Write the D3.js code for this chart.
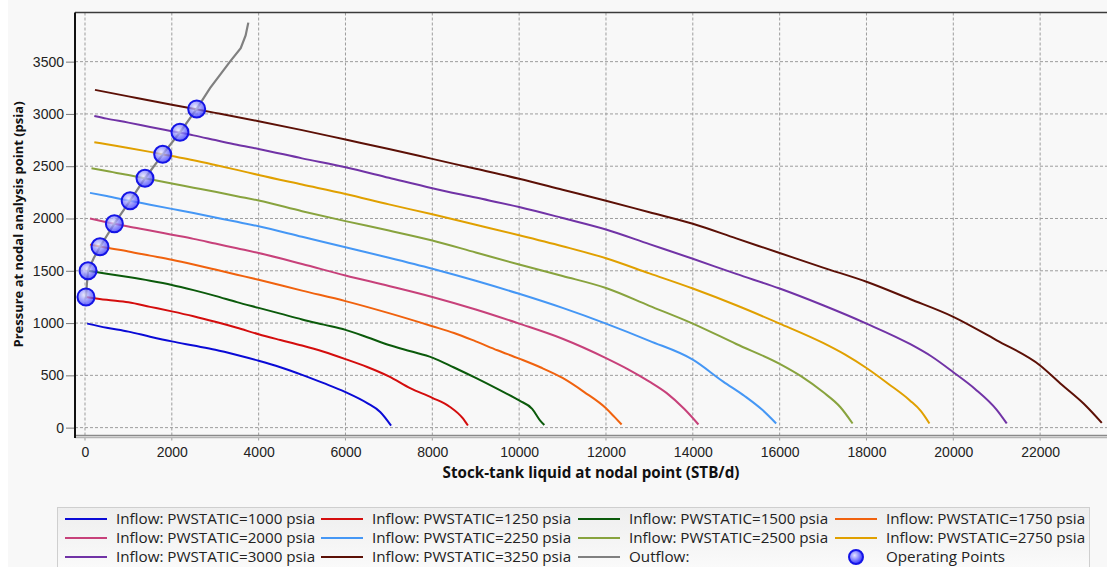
<!DOCTYPE html>
<html>
<head>
<meta charset="utf-8">
<script src="https://cdn.jsdelivr.net/npm/d3@7"></script>
<style>
  body { margin: 0; background: #ffffff; }
  svg { display: block; font-family: "Open Sans", "Noto Sans", sans-serif; }
</style>
</head>
<body>
<div id="chart"></div>
<script>
// Данные: расход (STB/d) и давление (psia) для каждой кривой притока
const pwstatic = [1000, 1250, 1500, 1750, 2000, 2250, 2500, 2750, 3000, 3250]

const inflow1000 = [[50,995],[500,955],[1000,918],[1500,870],[2000,825],[2500,785],[3000,745],[3500,695],[4000,640],[4500,578],[5000,505],[5500,425],[6000,340],[6500,235],[6800,150],[7050,20]]
const inflow1250 = [[23,1250],[500,1222],[1000,1198],[1500,1155],[2000,1112],[2500,1065],[3000,1012],[3500,955],[4000,893],[4500,838],[5000,785],[5500,725],[6000,655],[6500,580],[7000,490],[7500,375],[8000,285],[8400,200],[8700,90],[8820,20]]
const inflow1500 = [[70,1500],[500,1472],[1000,1440],[1500,1405],[2000,1365],[2500,1315],[3000,1260],[3500,1200],[4000,1145],[4500,1090],[5000,1035],[5500,985],[6000,935],[6500,865],[7000,790],[7500,730],[8000,670],[8500,575],[9000,475],[9500,370],[10000,260],[10300,180],[10480,70],[10580,25]]
const inflow1750 = [[115,1750],[500,1720],[1000,1685],[1500,1645],[2000,1605],[2500,1560],[3000,1512],[3500,1463],[4000,1414],[5000,1310],[6000,1210],[7000,1095],[8000,970],[8500,905],[9000,825],[9500,740],[10000,660],[10500,575],[11000,475],[11500,340],[12000,185],[12200,100],[12360,30]]
const inflow2000 = [[115,2000],[500,1965],[1000,1923],[1500,1885],[2000,1845],[2500,1805],[3000,1760],[3500,1715],[4000,1670],[5000,1565],[6000,1455],[7000,1355],[8000,1250],[9000,1130],[10000,995],[11000,850],[12000,665],[12500,560],[13000,440],[13400,330],[13800,180],[14130,30]]
const inflow2250 = [[115,2245],[500,2215],[1000,2172],[1500,2132],[2000,2092],[2500,2052],[3000,2010],[3500,1968],[4000,1925],[5000,1825],[6000,1725],[7000,1625],[8000,1520],[9000,1405],[10000,1280],[11000,1145],[12000,995],[13000,830],[14000,650],[14700,440],[15200,300],[15600,170],[15920,40]]
const inflow2500 = [[150,2480],[500,2455],[1000,2415],[1500,2375],[2000,2335],[2500,2295],[3000,2255],[3500,2213],[4000,2172],[5000,2070],[6000,1975],[7000,1885],[8000,1790],[9000,1675],[10000,1560],[11000,1450],[12000,1335],[13000,1165],[14000,995],[15000,800],[16000,610],[16500,490],[17000,340],[17400,195],[17680,40]]
const inflow2750 = [[215,2730],[500,2710],[1000,2675],[1500,2637],[2000,2597],[2500,2557],[3000,2512],[3500,2465],[4000,2416],[5000,2325],[6000,2235],[7000,2135],[8000,2040],[9000,1940],[10000,1840],[11000,1735],[12000,1620],[13000,1475],[14000,1330],[15000,1170],[16000,995],[17000,810],[17500,700],[18000,570],[18500,420],[19000,260],[19250,160],[19450,40]]
const inflow3000 = [[215,2980],[500,2955],[1000,2917],[1500,2875],[2000,2835],[2500,2795],[3000,2750],[3500,2705],[4000,2665],[5000,2575],[6000,2490],[7000,2390],[8000,2290],[9000,2200],[10000,2110],[11000,2005],[12000,1895],[13000,1755],[14000,1615],[15000,1470],[16000,1330],[17000,1170],[18000,995],[19000,800],[19500,680],[20000,530],[20500,370],[21000,170],[21230,40]]
const inflow3250 = [[230,3230],[1000,3168],[2000,3088],[3000,3010],[4000,2930],[5000,2845],[6000,2755],[7000,2665],[8000,2570],[9000,2475],[10000,2380],[11000,2275],[12000,2170],[13000,2060],[14000,1950],[15000,1810],[16000,1670],[17000,1530],[18000,1395],[19000,1230],[20000,1060],[21000,835],[22000,595],[22500,410],[23000,230],[23420,45]]

// Кривая оттока и рабочие точки
const outflow = [[20,1235],[23,1250],[45,1380],[70,1500],[200,1620],[346,1730],[677,1950],[1040,2170],[1382,2385],[1790,2614],[2188,2825],[2573,3048],[2880,3246],[3110,3373],[3340,3500],[3587,3628],[3700,3750],[3762,3873]]
const operatingPoints = [[23,1250],[70,1500],[346,1730],[677,1950],[1040,2170],[1382,2385],[1790,2614],[2188,2825],[2573,3048]]

// Подписи осей
const xTicks = [0, 2000, 4000, 6000, 8000, 10000, 12000, 14000, 16000, 18000, 20000, 22000]
const yTicks = [0, 500, 1000, 1500, 2000, 2500, 3000, 3500]

const inflows = [inflow1000, inflow1250, inflow1500, inflow1750, inflow2000, inflow2250, inflow2500, inflow2750, inflow3000, inflow3250]
const colors = ['#0a0ad6', '#d40d0d', '#0b5a0b', '#f0620e', '#c7417a', '#4597f5', '#88a33e', '#e0a000', '#7133a6', '#5c1006']
const outflowColor = '#808080'

const W = 1107, H = 567
const pLeft = 75, pRight = 1107, pTop = 12.5, pBottom = 436

let svg = d3.select('#chart')
  .append('svg')
  .attr('width', W)
  .attr('height', H)

// градиент для маркеров
let defs = svg.append('defs')
let grad = defs.append('radialGradient')
  .attr('id', 'opgrad')
  .attr('cx', '40%').attr('cy', '38%').attr('r', '60%')
grad.append('stop').attr('offset', '0%').attr('stop-color', '#e4e4ff')
grad.append('stop').attr('offset', '100%').attr('stop-color', '#3a3aff')

// фон
svg.append('rect').attr('x', 8).attr('y', 0).attr('width', W - 8).attr('height', H).attr('fill', '#f8f8f8')

let x = d3.scaleLinear().domain([-230, 23540]).range([pLeft, pRight])
let y = d3.scaleLinear().domain([-80, 3970]).range([pBottom, pTop])

// сетка
svg.append('g')
  .selectAll('line')
  .data(xTicks)
  .join('line')
  .attr('x1', d => x(d)).attr('x2', d => x(d))
  .attr('y1', pTop).attr('y2', pBottom + 5)
  .attr('stroke', '#9d9d9d')
  .attr('stroke-dasharray', '3,2')

svg.append('g')
  .selectAll('line')
  .data(yTicks)
  .join('line')
  .attr('x1', pLeft).attr('x2', pRight)
  .attr('y1', d => y(d)).attr('y2', d => y(d))
  .attr('stroke', '#9d9d9d')
  .attr('stroke-dasharray', '3,2')

// рамка
svg.append('line').attr('x1', pLeft).attr('x2', pRight).attr('y1', pTop).attr('y2', pTop)
  .attr('stroke', '#3a3a3a').attr('stroke-width', 1.5)
svg.append('line').attr('x1', pLeft).attr('x2', pRight).attr('y1', pBottom - 0.5).attr('y2', pBottom - 0.5)
  .attr('stroke', '#8a8a8a').attr('stroke-width', 1.5)
svg.append('line').attr('x1', pLeft).attr('x2', pRight).attr('y1', pBottom + 1.5).attr('y2', pBottom + 1.5)
  .attr('stroke', '#b5b5b5').attr('stroke-width', 1.5)
svg.append('line').attr('x1', pLeft).attr('x2', pLeft).attr('y1', pTop).attr('y2', pBottom + 2)
  .attr('stroke', '#111').attr('stroke-width', 2)

// оси
let yAxis = svg.append('g')
  .attr('transform', `translate(${pLeft - 1},0)`)
  .call(d3.axisLeft(y).tickValues(yTicks).tickFormat(d3.format('d')).tickSize(8).tickPadding(2).tickSizeOuter(0))
yAxis.select('.domain').remove()
yAxis.selectAll('.tick line').attr('stroke', '#777')
yAxis.selectAll('text').attr('font-size', 14).attr('fill', '#222')

let xAxis = svg.append('g')
  .attr('transform', `translate(0,${pBottom + 2})`)
  .call(d3.axisBottom(x).tickValues(xTicks).tickFormat(d3.format('d')).tickSize(0).tickPadding(9))
xAxis.select('.domain').remove()
xAxis.selectAll('text').attr('font-size', 14).attr('fill', '#222')

svg.append('text')
  .attr('x', (pLeft + pRight) / 2)
  .attr('y', 478)
  .attr('text-anchor', 'middle')
  .attr('font-size', 15.2)
  .attr('font-weight', 'bold')
  .attr('fill', '#111')
  .text('Stock-tank liquid at nodal point (STB/d)')

svg.append('text')
  .attr('transform', 'translate(23,224.5) rotate(-90)')
  .attr('text-anchor', 'middle')
  .attr('font-size', 13)
  .attr('font-weight', 'bold')
  .attr('fill', '#111')
  .text('Pressure at nodal analysis point (psia)')

// кривые
let smooth = d3.line().curve(d3.curveMonotoneX).x(d => x(d[0])).y(d => y(d[1]))
let line = d3.line().x(d => x(d[0])).y(d => y(d[1]))

svg.append('g')
  .selectAll('path')
  .data(inflows)
  .join('path')
  .attr('d', smooth)
  .attr('fill', 'none')
  .attr('stroke', (d, i) => colors[i])
  .attr('stroke-width', 2)

svg.append('path')
  .attr('d', line(outflow))
  .attr('fill', 'none')
  .attr('stroke', outflowColor)
  .attr('stroke-width', 2.2)

svg.append('g')
  .selectAll('circle')
  .data(operatingPoints)
  .join('circle')
  .attr('cx', d => x(d[0]))
  .attr('cy', d => y(d[1]))
  .attr('r', 8.5)
  .attr('fill', 'url(#opgrad)')
  .attr('fill-opacity', 0.75)
  .attr('stroke', '#1414e6')
  .attr('stroke-width', 2)

// легенда
let lgX = 57, lgY = 507
let lgGrad = defs.append('linearGradient')
  .attr('id', 'lggrad').attr('x1', 0).attr('y1', 0).attr('x2', 0).attr('y2', 1)
lgGrad.append('stop').attr('offset', '0%').attr('stop-color', '#eeeeee')
lgGrad.append('stop').attr('offset', '100%').attr('stop-color', '#fbfbfb')

svg.append('rect')
  .attr('x', lgX + 0.5).attr('y', lgY + 0.5)
  .attr('width', 1089 - lgX).attr('height', H - lgY + 5)
  .attr('fill', 'url(#lggrad)')
  .attr('stroke', '#cfcfcf')

let items = pwstatic.map((p, i) => ({ label: `Inflow: PWSTATIC=${p} psia`, color: colors[i], kind: 'line' }))
items.push({ label: 'Outflow:', color: outflowColor, kind: 'line' })
items.push({ label: 'Operating Points', kind: 'point' })

let colX = [65, 321, 578, 835]
let rowY = [519, 538, 557]

let lg = svg.append('g')
  .selectAll('g')
  .data(items)
  .join('g')
  .attr('transform', (d, i) => `translate(${colX[i % 4]},${rowY[Math.floor(i / 4)]})`)

lg.filter(d => d.kind === 'line')
  .append('line')
  .attr('x1', 0).attr('x2', 42)
  .attr('stroke', d => d.color)
  .attr('stroke-width', 2)

lg.filter(d => d.kind === 'point')
  .append('circle')
  .attr('cx', 21).attr('r', 7)
  .attr('fill', 'url(#opgrad)')
  .attr('stroke', '#1414e6')
  .attr('stroke-width', 2)

lg.append('text')
  .attr('x', 51)
  .attr('dy', '0.35em')
  .attr('font-size', 15.2)
  .attr('fill', '#222')
  .text(d => d.label)
</script>
</body>
</html>
